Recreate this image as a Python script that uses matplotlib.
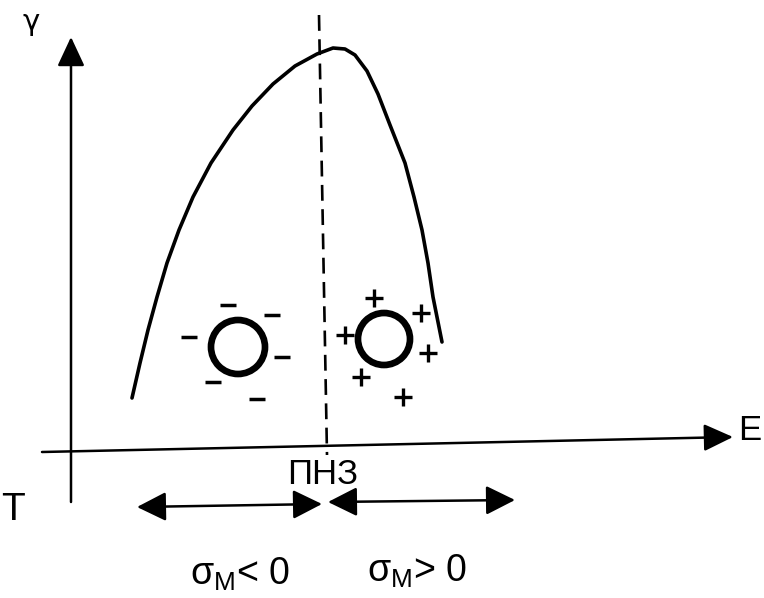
import matplotlib
matplotlib.use("Agg")
import matplotlib.pyplot as plt
from matplotlib.patches import Circle

plt.rcParams['font.family'] = ['Liberation Sans', 'DejaVu Sans']

# --- data (picture pixel coordinates, y downward) ---
curve_x = [132, 140, 148, 157, 167, 179, 193, 211, 233, 252, 273, 295, 317, 333,
           345, 355, 367, 378, 390, 405, 414, 422, 428, 433, 438, 442]
curve_y = [398, 363, 330, 297, 263, 230, 197, 163, 130, 106, 84, 66, 54, 48,
           49, 55, 71, 94, 125, 163, 197, 230, 263, 297, 322, 342]

neg_ion = (238, 347, 27)
pos_ion = (384, 339, 26)
minus_x = [228, 272, 189, 282, 213, 257]
minus_y = [305, 315, 337, 357, 382, 399]
plus_x = [374, 421, 345, 428, 361, 403]
plus_y = [298, 313, 335, 353, 377, 397]

pzc_x = [319, 327]
pzc_y = [15, 455]

W, H = 764, 598
fig = plt.figure(figsize=(W / 100, H / 100), dpi=100)
ax = fig.add_axes([0, 0, 1, 1])
ax.set_xlim(0, W)
ax.set_ylim(H, 0)
ax.axis('off')

arrow_kw = dict(arrowstyle='-|>,head_length=0.9,head_width=0.42', mutation_scale=20,
                lw=1.8, color='black', shrinkA=0, shrinkB=0)
arrow_kw2 = dict(arrowstyle='<|-|>,head_length=0.9,head_width=0.45', mutation_scale=20,
                 lw=1.8, color='black', shrinkA=0, shrinkB=0)

# y axis
ax.annotate('', xy=(71, 37), xytext=(71, 502), arrowprops=arrow_kw)
# x axis
ax.annotate('', xy=(733, 437), xytext=(42, 452), arrowprops=arrow_kw)

ax.text(31, 22, 'γ', fontsize=21, ha='center', va='center', family=['DejaVu Sans'])
ax.text(750, 430, 'E', fontsize=25, ha='center', va='center')

# dashed PZC line
ax.plot(pzc_x, pzc_y, color='black', lw=1.9, dashes=(6, 3.2))

# curve
ax.plot(curve_x, curve_y, color='black', lw=2.6, solid_capstyle='round')

# ions
for cx, cy, r in (neg_ion, pos_ion):
    ax.add_patch(Circle((cx, cy), r, fill=False, lw=4.8, ec='black'))
ax.plot(minus_x, minus_y, '_', color='black', ms=11, mew=2.5)
ax.plot(plus_x, plus_y, '+', color='black', ms=12.5, mew=2.4)

ax.text(323, 474, 'ПНЗ', fontsize=25, ha='center', va='center',
        family=['Liberation Sans Narrow', 'Liberation Sans', 'DejaVu Sans'])

# double arrows
ax.annotate('', xy=(137, 507), xytext=(322, 504), arrowprops=arrow_kw2)
ax.annotate('', xy=(328, 502), xytext=(515, 500), arrowprops=arrow_kw2)

ax.text(190, 574, r'σ$_{\mathregular{M}}$< 0', fontsize=27, ha='left', va='center')
ax.text(367, 571, r'σ$_{\mathregular{M}}$> 0', fontsize=27, ha='left', va='center')

ax.text(1, 510, 'T', fontsize=28, ha='left', va='center')

fig.savefig('out.png', dpi=100)
